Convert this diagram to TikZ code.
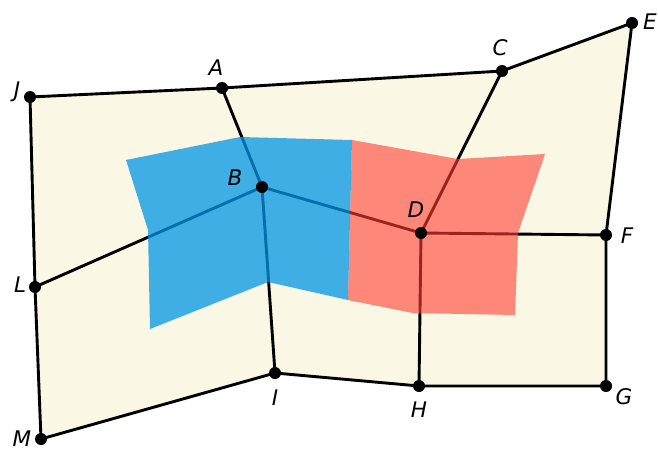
\documentclass[tikz,border=0pt]{standalone}
\usepackage{fontspec}
\setmainfont{DejaVu Sans}
\begin{document}
\begin{tikzpicture}[x=1pt,y=-1pt,
  dot/.style={circle,fill=black,inner sep=0pt,minimum size=12pt},
  lbl/.style={font=\fontsize{21.5}{25}\selectfont\itshape,inner sep=0pt},
  edge/.style={line width=2.9pt,black,line join=round}]
\definecolor{cream}{RGB}{250,248,228}
\definecolor{blueA}{RGB}{0,150,230}
\definecolor{redA}{RGB}{255,62,50}
\useasboundingbox (0,0) rectangle (658,452);
\fill[white] (0,0) rectangle (658,452);
% points
\coordinate (pJ) at (30,97);
\coordinate (pA) at (222,88);
\coordinate (pC) at (502,71);
\coordinate (pE) at (632,23);
\coordinate (pF) at (606,235);
\coordinate (pG) at (606,386);
\coordinate (pH) at (419,386);
\coordinate (pI) at (275,373);
\coordinate (pM) at (41,439);
\coordinate (pL) at (35,287);
\coordinate (pB) at (262,187);
\coordinate (pD) at (421,233);
% background sheet
\fill[cream] (pJ) -- (pA) -- (pC) -- (pE) -- (pF) -- (pG) -- (pH) -- (pI) -- (pM) -- (pL) -- cycle;
% edges
\draw[edge] (pJ) -- (pA) -- (pC) -- (pE) -- (pF) -- (pG) -- (pH) -- (pI) -- (pM) -- (pL) -- cycle;
\draw[edge] (pA) -- (pB);
\draw[edge] (pB) -- (pL);
\draw[edge] (pB) -- (pI);
\draw[edge] (pB) -- (pD);
\draw[edge] (pC) -- (pD);
\draw[edge] (pD) -- (pF);
\draw[edge] (pD) -- (pH);
% coloured regions
\fill[blueA,fill opacity=0.75] (126,160) -- (240,137) -- (352,140) -- (348,300) -- (268,282) -- (150,329) -- (148,230) -- cycle;
\fill[redA,fill opacity=0.6] (352,140) -- (458,159) -- (545,154) -- (518,233) -- (515,315) -- (413,313) -- (348,300) -- cycle;
% dots
\foreach \p in {J,A,C,E,F,G,H,I,M,L,B,D}{
  \node[dot] (\p) at (p\p) {};
}
% labels
\node[lbl] (lJ) at (17,92) {J};
\node[lbl] (lA) at (216,68) {A};
\node[lbl] (lC) at (500,48) {C};
\node[lbl,anchor=west] (lE) at (643,22) {E};
\node[lbl] (lF) at (627,236) {F};
\node[lbl] (lG) at (624,397) {G};
\node[lbl] (lH) at (419,410) {H};
\node[lbl] (lI) at (275,398) {I};
\node[lbl] (lM) at (22,439) {M};
\node[lbl] (lL) at (20,285) {L};
\node[lbl] (lB) at (235,178) {B};
\node[lbl] (lD) at (416,210) {D};
\end{tikzpicture}
\end{document}
